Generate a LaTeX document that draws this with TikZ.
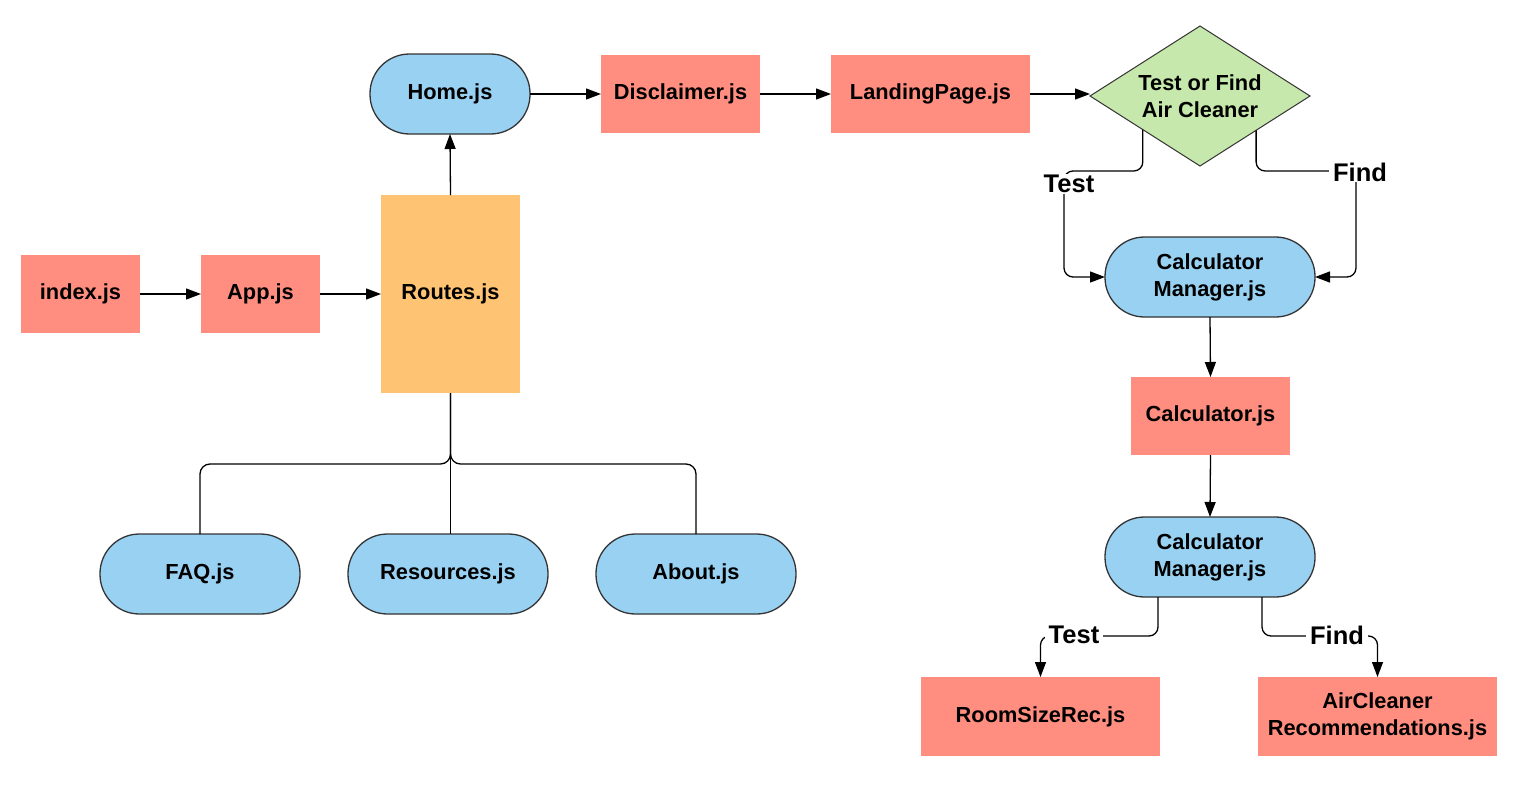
\documentclass[tikz,border=0pt]{standalone}
\usepackage{fontspec}
\setmainfont{Liberation Sans}
\usetikzlibrary{arrows.meta,shapes.geometric,calc}
\definecolor{salmon}{HTML}{FF8E80}
\definecolor{skyb}{HTML}{99D1F2}
\definecolor{routeor}{HTML}{FFC374}
\definecolor{dgreen}{HTML}{C7E8AC}
\definecolor{edgec}{HTML}{333333}
\tikzset{
  txt/.style={font=\bfseries\fontsize{21.8}{27}\selectfont, text=black},
  filebox/.style={fill=salmon, inner sep=0pt, outer sep=0pt, align=center, txt},
  stad/.style={fill=skyb, draw=edgec, line width=1.3pt, rounded corners=39.5pt, minimum height=80pt, inner sep=0pt, outer sep=0pt, align=center, txt},
  conn/.style={draw=black, line width=1.3pt},
  arr/.style={conn, -{Triangle[length=15pt,width=11pt]}},
  lbl/.style={fill=white, inner xsep=4pt, inner ysep=1pt, font=\bfseries\fontsize{25.5}{30}\selectfont}
}
\begin{document}
\begin{tikzpicture}[x=1pt,y=-1pt]
\useasboundingbox (0,0) rectangle (1529,795);
\fill[white] (0,0) rectangle (1529,795);

% nodes
\node[filebox, minimum width=119pt, minimum height=78pt] (index) at (80.5,294) {index.js};
\node[filebox, minimum width=119pt, minimum height=78pt] (app) at (260.5,294) {App.js};
\node[filebox, fill=routeor, minimum width=139pt, minimum height=198pt] (routes) at (450.5,294) {Routes.js};
\node[stad, minimum width=160pt] (home) at (450,94) {Home.js};
\node[filebox, minimum width=159pt, minimum height=78pt] (disc) at (680.5,94) {Disclaimer.js};
\node[filebox, minimum width=199pt, minimum height=78pt] (land) at (930.5,94) {LandingPage.js};
\node[diamond, fill=dgreen, draw=edgec, line width=1pt, minimum width=220pt, minimum height=140pt, aspect=1.57, inner sep=0pt, outer sep=0pt, align=center, txt] (dia) at (1200,96) {Test or Find\\Air Cleaner};
\node[stad, minimum width=210pt] (cm1) at (1210,277) {Calculator\\Manager.js};
\node[filebox, minimum width=159pt, minimum height=78pt] (calc) at (1210.5,416) {Calculator.js};
\node[stad, minimum width=210pt] (cm2) at (1210,557) {Calculator\\Manager.js};
\node[filebox, minimum width=239pt, minimum height=79pt] (rsr) at (1040.5,716.5) {RoomSizeRec.js};
\node[filebox, minimum width=239pt, minimum height=79pt] (acr) at (1377.5,716.5) {AirCleaner\\Recommendations.js};
\node[stad, minimum width=200pt] (faq) at (200,574) {FAQ.js};
\node[stad, minimum width=200pt] (res) at (448,574) {Resources.js};
\node[stad, minimum width=200pt] (about) at (696,574) {About.js};

% main chain
\draw[arr] (index.east) -- (app.west);
\draw[arr] (app.east) -- (routes.west);
\draw[arr] (routes.north) -- (home.south);
\draw[arr] (home.east) -- (disc.west);
\draw[arr] (disc.east) -- (land.west);
\draw[arr] (land.east) -- (land.east -| dia.west);

% routes children
\draw[conn] (routes.south) -- (routes.south |- res.north);
\draw[conn, rounded corners=10pt] (routes.south) -- ($(routes.south)+(0,71)$) -| (faq.north);
\draw[conn, rounded corners=10pt] (routes.south) -- ($(routes.south)+(0,71)$) -| (about.north);

% decision branches
\coordinate (dt) at ($(dia.south)!0.52!(dia.west)$);
\coordinate (df) at ($(dia.south)!0.51!(dia.east)$);
\coordinate (tc) at (1064,171);
\coordinate (fc) at (1356,171);
\draw[arr, rounded corners=9pt] (dt) |- (tc) |- (cm1.west);
\draw[arr, rounded corners=9pt] (df) |- (fc) |- (cm1.east);
\node[lbl] (tlab) at (1069,184) {Test};
\node[lbl] (flab) at (1360,172) {Find};

% calculator chain
\draw[arr] (cm1.south) -- (calc.north);
\draw[arr] (calc.south) -- (cm2.south |- 0,517);

% bottom branches
\coordinate (bt) at ($(cm2.south)+(-52,0)$);
\coordinate (bf) at ($(cm2.south)+(52,0)$);
\draw[arr, rounded corners=9pt] (bt) |- ($(rsr.north)+(0,-41)$) -- (rsr.north);
\draw[arr, rounded corners=9pt] (bf) |- ($(acr.north)+(0,-41)$) -- (acr.north);
\node[lbl] (tlab2) at (1074,635) {Test};
\node[lbl] (flab2) at (1337,635) {Find};
\end{tikzpicture}
\end{document}
